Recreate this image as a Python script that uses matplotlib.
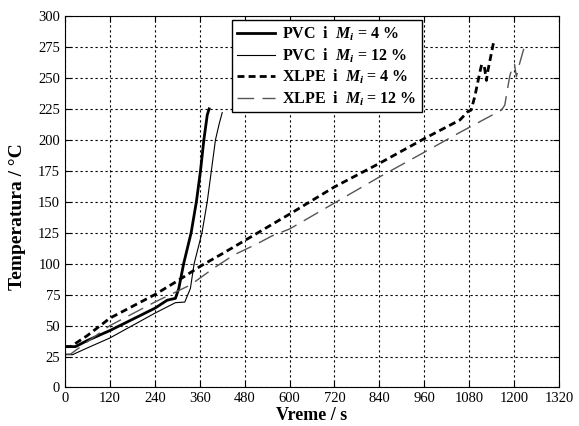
import numpy as np
import matplotlib
matplotlib.use("Agg")
import matplotlib.pyplot as plt

plt.rcParams['font.family'] = 'Liberation Serif'
plt.rcParams['mathtext.fontset'] = 'custom'
plt.rcParams['mathtext.rm'] = 'Liberation Serif:bold'
plt.rcParams['mathtext.it'] = 'Liberation Serif:italic:bold'

# PVC, Mi = 4 %
pvc4_t = [0, 28, 60, 120, 180, 240, 273, 295, 304, 317, 337, 351, 362, 371, 380, 385]
pvc4_T = [33, 33, 38, 46, 55, 64, 70.5, 72, 80, 100, 125, 150, 175, 200, 220, 225]

# PVC, Mi = 12 %
pvc12_t = [0, 20, 60, 120, 180, 240, 295, 320, 335, 345, 366, 380, 391, 402, 412, 420]
pvc12_T = [26.5, 26.5, 32, 40, 50, 60, 68.5, 69, 80, 100, 125, 150, 175, 200, 213, 222]

# XLPE, Mi = 4 %
xlpe4_t = [0, 15, 60, 120, 180, 240, 300, 362, 420, 482, 566, 600, 720, 840, 960,
           1055, 1077, 1085, 1095, 1108, 1113, 1120, 1126, 1130, 1140, 1146]
xlpe4_T = [33, 33, 42, 56, 65.5, 75, 86, 98, 108, 119, 134, 140, 162, 181, 201,
           216, 223, 224, 235, 254, 260.5, 260, 248, 256, 271, 280]

# XLPE, Mi = 12 %
xlpe12_t = [0, 15, 60, 120, 240, 335, 397, 451, 513, 553, 600, 720, 840, 960,
            1055, 1086, 1166, 1175, 1188, 1197, 1201, 1206, 1215, 1231]
xlpe12_T = [27, 27, 37, 50, 69, 82.8, 96.3, 107, 116, 122.4, 128, 149, 170, 190,
            206, 211, 224, 228, 251, 260.5, 261, 251, 262, 279]

fig = plt.figure(figsize=(5.79, 4.26), dpi=100)
ax = fig.add_axes([0.1123, 0.0904, 0.8532, 0.872])

ax.plot(pvc4_t, pvc4_T, color='black', lw=2.0, label=r'PVC  i  $M_i$ = 4 %')
ax.plot(pvc12_t, pvc12_T, color='black', lw=0.8, label=r'PVC  i  $M_i$ = 12 %')
ax.plot(xlpe4_t, xlpe4_T, color='black', lw=2.0, linestyle=(0, (2.5, 1.5)),
        label=r'XLPE  i  $M_i$ = 4 %')
ax.plot(xlpe12_t, xlpe12_T, color='#555555', lw=1.0, linestyle=(0, (12, 6)),
        label=r'XLPE  i  $M_i$ = 12 %')

ax.set_xlim(0, 1320)
ax.set_ylim(0, 300)
ax.set_xticks(np.arange(0, 1321, 120))
ax.set_yticks(np.arange(0, 301, 25))
ax.tick_params(direction='in', top=True, right=True, labelsize=10.5, length=4)
ax.grid(True, color='black', linestyle=(0, (2, 2.5)), lw=0.8)

ax.set_xlabel('Vreme / s', fontsize=13, fontweight='bold', labelpad=1)
ax.set_ylabel('Temperatura / °C', fontsize=14, fontweight='bold')
ax.yaxis.set_label_coords(-0.079, 0.46)

leg = ax.legend(loc='upper left', bbox_to_anchor=(0.338, 0.99),
                prop={'weight': 'bold', 'size': 11.5}, fancybox=False,
                framealpha=1, edgecolor='black', handlelength=2.4,
                handletextpad=0.45, borderaxespad=0, labelspacing=0.2,
                borderpad=0.3)
leg.get_frame().set_linewidth(1.0)

fig.savefig('out.png', dpi=100)
